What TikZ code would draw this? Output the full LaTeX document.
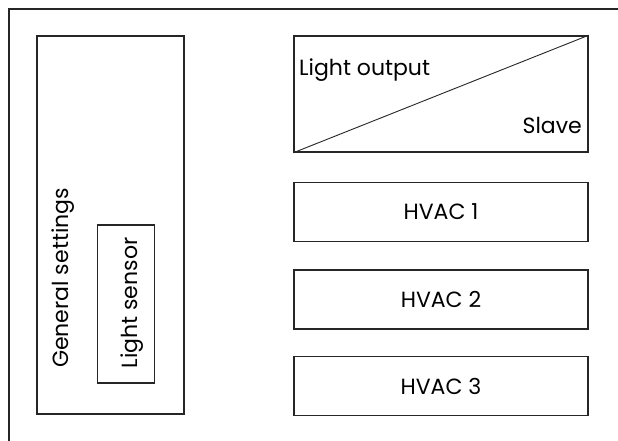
\documentclass[tikz,border=0pt]{standalone}
\usepackage{fontspec}
\setmainfont{Poppins}
\definecolor{ln}{HTML}{262626}
\begin{document}
\begin{tikzpicture}[x=1pt,y=-1pt,
  box/.style={draw=ln,line width=1.6pt,inner sep=0pt,fill=none},
  lbl/.style={inner sep=0pt,font=\fontsize{22}{26}\selectfont,text=black}]
\useasboundingbox (0,0) rectangle (618,441);
\fill[white] (0,0) rectangle (618,441);
% outer frame (only left and top visible)
\coordinate (fbl) at (9,460);
\coordinate (ftl) at (9,9);
\coordinate (ftr) at (640,9);
\draw[ln,line width=1.6pt] (fbl) -- (ftl) -- (ftr);
% general settings
\node[box,minimum width=147pt,minimum height=378pt] (gen) at (110.5,225) {};
\node[lbl,rotate=90,anchor=base] (gent) at (68,278) {General settings};
\node[box,minimum width=57pt,minimum height=158pt] (ls) at (126,304) {};
\node[lbl,rotate=90,anchor=base] (lst) at (137,303) {Light sensor};
% light output / slave
\node[box,minimum width=294pt,minimum height=116pt] (lo) at (441,94) {};
\draw[ln,line width=0.9pt] (lo.south west) -- (lo.north east);
\node[lbl,anchor=base west] (lot) at (299,76) {Light output};
\node[lbl,anchor=base east] (sl) at (582,134) {Slave};
% HVAC
\node[box,minimum width=294pt,minimum height=59pt] (h1) at (441,212) {};
\node[lbl] at (h1.center) {HVAC 1};
\node[box,minimum width=294pt,minimum height=59pt] (h2) at (441,299.5) {};
\node[lbl] at (h2.center) {HVAC 2};
\node[box,minimum width=294pt,minimum height=59pt] (h3) at (441,386) {};
\node[lbl] at (h3.center) {HVAC 3};
\end{tikzpicture}
\end{document}
